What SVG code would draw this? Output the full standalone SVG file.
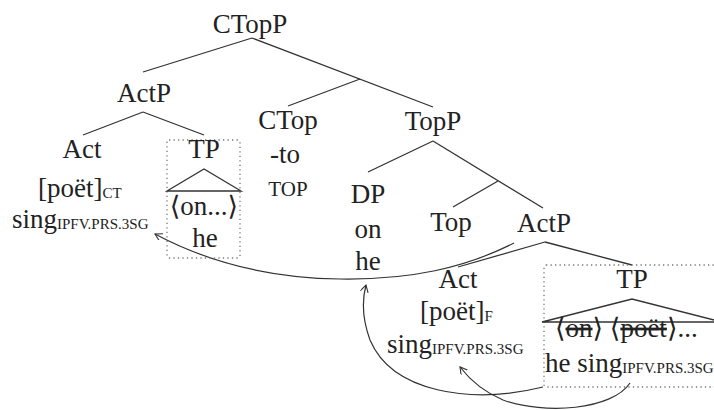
<svg xmlns="http://www.w3.org/2000/svg" width="714" height="410" viewBox="0 0 714 410">
<style>
.t text{font-size:27px;fill:#222}
.m{text-anchor:middle}
.t .sc{font-size:15px}
.t .tp{font-size:21px}
.e{stroke:#333;stroke-width:1.3;fill:none}
.box{stroke:#777;stroke-width:1.3;fill:none;stroke-dasharray:1.3 3.2}
.arr{stroke:#333;stroke-width:1.2;fill:none;marker-end:url(#ah)}
</style>
<defs>
<marker id="ah" markerWidth="10" markerHeight="10" refX="7" refY="4" orient="auto" markerUnits="userSpaceOnUse">
<path d="M0,0 L7,4 L0,8" fill="none" stroke="#333" stroke-width="1.1"/>
</marker>
</defs>
<rect width="714" height="410" fill="#fff"/>
<g id="connectors">
<line class="e" x1="252" y1="38" x2="143" y2="72"/>
<line class="e" x1="252" y1="38" x2="433" y2="107"/>
<line class="e" x1="360" y1="79" x2="288" y2="106"/>
<line class="e" x1="143" y1="112" x2="83" y2="135"/>
<line class="e" x1="143" y1="112" x2="204" y2="135"/>
<line class="e" x1="433" y1="141" x2="368" y2="172"/>
<line class="e" x1="433" y1="141" x2="543" y2="208"/>
<line class="e" x1="498" y1="181" x2="453" y2="207"/>
<line class="e" x1="545" y1="242" x2="458" y2="267"/>
<line class="e" x1="545" y1="242" x2="632" y2="265"/>
<path class="arr" d="M514,243 C465,268 410,280 340,279 C260,278 200,258 155,234"/>
<path class="arr" d="M543,387 C470,405 392,392 370,340 C362,318 362,300 366,285"/>
<path class="arr" d="M630,383 C612,410 545,415 503,400 C484,392 470,380 460,367"/>
</g>
<g class="t" font-family="'Liberation Serif', 'DejaVu Serif', serif">
<g id="CTopP"><text class="m" x="250" y="33">CTopP</text></g>
<g id="ActP1"><text class="m" x="144" y="102">ActP</text></g>
<g id="Act1">
<text class="m" x="82" y="158">Act</text>
<text x="38" y="197">[poët]<tspan class="sc" dy="1">CT</tspan></text>
<text x="12" y="228">sing<tspan class="sc" dy="1">IPFV.PRS.3SG</tspan></text>
</g>
<g id="TP1">
<rect class="box" x="167" y="140" width="73" height="118" rx="2"/>
<text class="m" x="204" y="158">TP</text>
<path class="e" d="M167,191 L204,169 L241,191 Z"/>
<text class="m" x="204" y="215">⟨on...⟩</text>
<text class="m" x="205" y="247">he</text>
</g>
<g id="CTop">
<text class="m" x="288" y="129">CTop</text>
<text class="m" x="285" y="163">-to</text>
<text class="m tp" x="288" y="196">TOP</text>
</g>
<g id="TopP"><text class="m" x="433" y="130">TopP</text></g>
<g id="DP">
<text class="m" x="368" y="203">DP</text>
<text class="m" x="368" y="238">on</text>
<text class="m" x="368" y="270">he</text>
</g>
<g id="Top"><text class="m" x="451" y="231">Top</text></g>
<g id="ActP2"><text class="m" x="544" y="232">ActP</text></g>
<g id="Act2">
<text class="m" x="458" y="288">Act</text>
<text x="420" y="320">[poët]<tspan class="sc" dy="1">F</tspan></text>
<text x="387" y="353">sing<tspan class="sc" dy="1">IPFV.PRS.3SG</tspan></text>
</g>
<g id="TP2">
<rect class="box" x="544" y="265" width="200" height="122" rx="2"/>
<text class="m" x="632" y="288">TP</text>
<path class="e" d="M542,322 L632,299 L722,322 Z"/>
<text x="555" y="337">⟨<tspan text-decoration="line-through">on</tspan>⟩ ⟨<tspan text-decoration="line-through">poët</tspan>⟩...</text>
<text x="545" y="372">he sing<tspan class="sc" dy="1">IPFV.PRS.3SG</tspan></text>
</g>
</g>
</svg>
